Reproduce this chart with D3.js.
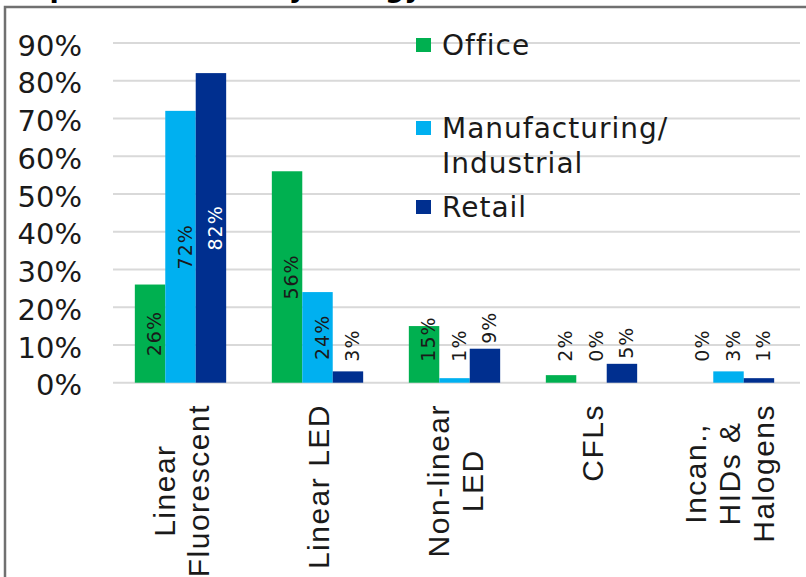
<!DOCTYPE html>
<html>
<head>
<meta charset="utf-8">
<script src="https://cdn.jsdelivr.net/npm/d3@7"></script>
<style>
  body { margin: 0; background: #fff; }
</style>
</head>
<body>
<div class="canvas"></div>
<script>
// chart data
const categories = ['Linear Fluorescent', 'Linear LED', 'Non-linear LED', 'CFLs', 'Incan., HIDs & Halogens'];
const categoryLines = [['Linear', 'Fluorescent'], ['Linear LED'], ['Non-linear', 'LED'], ['CFLs'], ['Incan.,', 'HIDs &', 'Halogens']];
const seriesNames = ['Office', 'Manufacturing/Industrial', 'Retail'];
const legendLines = [['Office'], ['Manufacturing/', 'Industrial'], ['Retail']];
const office = [0.26, 0.56, 0.15, 0.02, 0];
const manufacturing = [0.72, 0.24, 0.012, 0, 0.03];
const retail = [0.82, 0.03, 0.09, 0.05, 0.012];
const yTicks = [0, 0.1, 0.2, 0.3, 0.4, 0.5, 0.6, 0.7, 0.8, 0.9];
const titleText = 'Lamp Distribution by Energy';

const colors = ['#00B050', '#00B0F0', '#002F8F'];
const labelColors = ['#1a1a1a', '#1a1a1a', '#ffffff'];
const seriesValues = [office, manufacturing, retail];

const dims = { width: 806, height: 577 };

const svg = d3.select('.canvas')
    .append('svg')
    .attr('width', dims.width)
    .attr('height', dims.height)

// scales
const x0 = d3.scaleBand()
    .domain(categories)
    .range([112, 797])
    .padding(0)

const x1 = d3.scaleBand()
    .domain(seriesNames)
    .range([0, x0.bandwidth()])
    .paddingInner(0)
    .paddingOuter(0.75)

const y = d3.scaleLinear()
    .domain([0, 0.9])
    .range([382.7, 42.9])

// cropped title at the very top (cut off in the original too)
svg.append('text')
    .attr('x', -14)
    .attr('y', -3)
    .attr('font-family', 'DejaVu Sans')
    .attr('font-weight', 'bold')
    .attr('font-size', 27)
    .attr('fill', '#000')
    .text(titleText)

// frame
svg.append('rect')
    .attr('x', 5)
    .attr('y', 7)
    .attr('width', 900)
    .attr('height', 700)
    .attr('fill', 'none')
    .attr('stroke', '#707070')
    .attr('stroke-width', 2.5)

// gridlines
svg.append('g')
    .selectAll('line')
    .data(yTicks)
    .join('line')
    .attr('x1', 113)
    .attr('x2', 800)
    .attr('y1', d => y(d))
    .attr('y2', d => y(d))
    .attr('stroke', '#d9d9d9')
    .attr('stroke-width', 2)

// y axis labels
const yAxis = d3.axisLeft(y)
    .tickValues(yTicks)
    .tickFormat(d3.format('.0%'))
    .tickSize(0)
    .tickPadding(0)

const yG = svg.append('g')
    .attr('transform', 'translate(82,0)')
    .call(yAxis)
yG.select('.domain').remove()
yG.selectAll('text')
    .attr('font-family', 'DejaVu Sans')
    .attr('font-size', 29)
    .attr('fill', '#1a1a1a')
    .attr('dy', '0.42em')

// bars
const rows = categories.map((c, i) => ({ category: c, values: seriesValues.map(v => v[i]) }));

const groups = svg.append('g')
    .selectAll('g')
    .data(rows)
    .join('g')
    .attr('transform', d => `translate(${x0(d.category)},0)`)

groups.selectAll('rect')
    .data(d => d.values.map((v, s) => ({ s, v })))
    .join('rect')
    .attr('x', d => x1(seriesNames[d.s]))
    .attr('width', x1.bandwidth())
    .attr('y', d => y(d.v))
    .attr('height', d => y(0) - y(d.v))
    .attr('fill', d => colors[d.s])

// data labels, rotated
const fmt = d3.format('.0%');
const labelFloor = y(0) - 21;
groups.selectAll('text')
    .data(d => d.values.map((v, s) => ({ s, v })))
    .join('text')
    .attr('font-family', 'DejaVu Sans')
    .attr('font-size', 19)
    .attr('letter-spacing', 1)
    .attr('fill', d => d.v >= 0.1 ? labelColors[d.s] : '#1a1a1a')
    .attr('text-anchor', d => d.v >= 0.1 ? 'middle' : 'start')
    .text(d => fmt(d.v))
    .attr('transform', function (d) {
        const cx = x1(seriesNames[d.s]) + x1.bandwidth() / 2 + 11;
        let yy;
        if (d.v >= 0.1) {
            const len = this.getComputedTextLength();
            yy = Math.min((y(d.v) + y(0)) / 2, labelFloor - len / 2);
        } else {
            yy = Math.min(y(d.v) - 5, labelFloor);
        }
        return `translate(${cx},${yy}) rotate(-90)`;
    })

// category labels, rotated and multi-line
const labelTop = 404;
const lineGap = 34;
categoryLines.forEach((lines, i) => {
    const cx = x0(categories[i]) + x0.bandwidth() / 2;
    const texts = svg.append('g')
        .selectAll('text')
        .data(lines)
        .join('text')
        .attr('font-family', 'Liberation Sans')
        .attr('font-size', 30)
        .attr('letter-spacing', 1.5)
        .attr('fill', '#1a1a1a')
        .attr('text-anchor', 'middle')
        .text(d => d)
    const maxLen = d3.max(texts.nodes(), n => n.getComputedTextLength());
    const cy = labelTop + maxLen / 2;
    texts.attr('transform', (d, j) => {
        const lx = cx + 11 + (j - (lines.length - 1) / 2) * lineGap;
        return `translate(${lx},${cy}) rotate(-90)`;
    })
});

// legend
const legendBase = [55, 138, 217];
const legend = svg.append('g')
    .selectAll('g')
    .data(legendLines)
    .join('g')
    .attr('transform', (d, i) => `translate(416,${legendBase[i]})`)

legend.append('rect')
    .attr('x', 0)
    .attr('y', -17)
    .attr('width', 15)
    .attr('height', 14)
    .attr('fill', (d, i) => colors[i])

legend.selectAll('text')
    .data(d => d)
    .join('text')
    .attr('x', 26)
    .attr('y', (d, j) => j * 35)
    .attr('font-family', 'DejaVu Sans')
    .attr('font-size', 28)
    .attr('letter-spacing', 1)
    .attr('fill', '#1a1a1a')
    .text(d => d)
</script>
</body>
</html>
